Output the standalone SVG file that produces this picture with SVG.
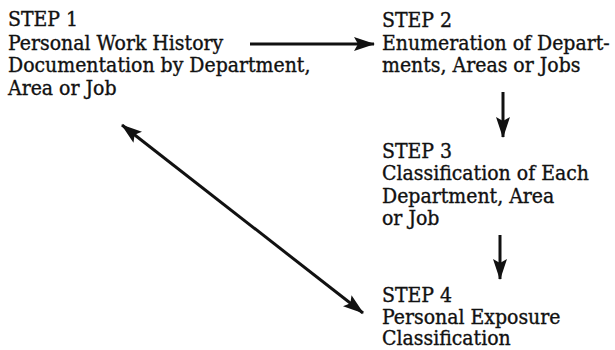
<svg xmlns="http://www.w3.org/2000/svg" width="615" height="350" viewBox="0 0 615 350">
<style>
text{font-family:"DejaVu Serif Condensed","DejaVu Serif",serif;font-size:21px;fill:#111;stroke:#111;stroke-width:0.35;}
.c{stroke:#111;stroke-width:3;fill:none;}
</style>
<defs>
<marker id="ah" markerUnits="userSpaceOnUse" markerWidth="22" markerHeight="16" refX="20" refY="8" orient="auto-start-reverse" viewBox="0 0 22 16">
<path d="M0,1 L21,8 L0,15 L4,8 Z" fill="#111"/>
</marker>
</defs>
<rect width="615" height="350" fill="#fff"/>
<g id="step1">
<text x="8" y="26">STEP 1</text>
<text x="8" y="50">Personal Work History</text>
<text x="8" y="72">Documentation by Department,</text>
<text x="8" y="95">Area or Job</text>
</g>
<g id="step2">
<text x="382" y="27">STEP 2</text>
<text x="382" y="50">Enumeration of Depart-</text>
<text x="382" y="72">ments, Areas or Jobs</text>
</g>
<g id="step3">
<text x="382" y="158">STEP 3</text>
<text x="382" y="180">Classification of Each</text>
<text x="382" y="203">Department, Area</text>
<text x="382" y="225">or Job</text>
</g>
<g id="step4">
<text x="382" y="302">STEP 4</text>
<text x="382" y="324">Personal Exposure</text>
<text x="382" y="345">Classification</text>
</g>
<g id="connectors">
<line class="c" x1="250" y1="44" x2="374" y2="44" marker-end="url(#ah)"/>
<line class="c" x1="503" y1="92" x2="503" y2="137" marker-end="url(#ah)"/>
<line class="c" x1="500" y1="235" x2="500" y2="279" marker-end="url(#ah)"/>
<line class="c" x1="122" y1="125" x2="363" y2="313" marker-start="url(#ah)" marker-end="url(#ah)"/>
</g>
</svg>
